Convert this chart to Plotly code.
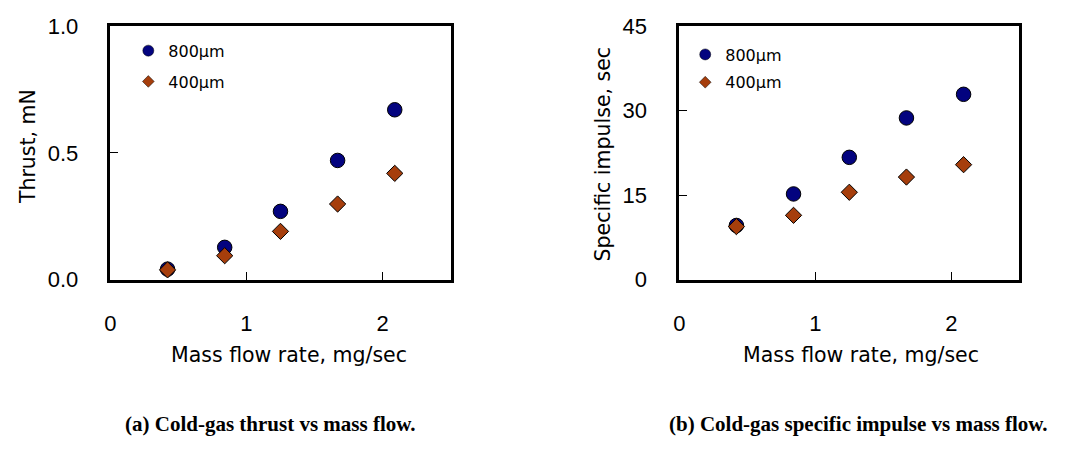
import plotly.graph_objects as go

# Data
mass_flow = [0.42, 0.84, 1.25, 1.67, 2.09]
thrust_800 = [0.041, 0.127, 0.269, 0.47, 0.67]
thrust_400 = [0.038, 0.094, 0.19, 0.298, 0.419]
isp_800 = [9.6, 15.2, 21.7, 28.7, 32.9]
isp_400 = [9.4, 11.4, 15.5, 18.2, 20.4]
series_names = ["800μm", "400μm"]
x_ticks = [0, 1, 2]
y1_ticks = [0.0, 0.5, 1.0]
y1_ticktext = ["0.0", "0.5", "1.0"]
y2_ticks = [0, 15, 30, 45]
captions = ["(a) Cold-gas thrust vs mass flow.", "(b) Cold-gas specific impulse vs mass flow."]

W, H = 1084, 457
NAVY = "#03037F"
BROWN = "#A63E0C"

def px(v):
    return v / W

def py(v):
    return 1 - v / H

fig = go.Figure()

circle = dict(symbol="circle", size=14.5, color=NAVY, line=dict(color="black", width=1))
diamond = dict(symbol="diamond", size=12.5, color=BROWN, line=dict(color="black", width=1))
circle_leg = dict(symbol="circle", size=11, color=NAVY, line=dict(color="black", width=0.5))
diamond_leg = dict(symbol="diamond", size=9, color=BROWN, line=dict(color="black", width=0.5))

# left panel
fig.add_trace(go.Scatter(x=mass_flow, y=thrust_800, mode="markers", marker=circle,
                         showlegend=False, xaxis="x", yaxis="y"))
fig.add_trace(go.Scatter(x=mass_flow, y=thrust_400, mode="markers", marker=diamond,
                         showlegend=False, xaxis="x", yaxis="y"))
# right panel
fig.add_trace(go.Scatter(x=mass_flow, y=isp_800, mode="markers", marker=circle,
                         showlegend=False, xaxis="x2", yaxis="y2"))
fig.add_trace(go.Scatter(x=mass_flow, y=isp_400, mode="markers", marker=diamond,
                         showlegend=False, xaxis="x2", yaxis="y2"))

# legend entries
for lg, xa, ya in [("legend", "x", "y"), ("legend2", "x2", "y2")]:
    fig.add_trace(go.Scatter(x=[None], y=[None], mode="markers", marker=circle_leg,
                             name=series_names[0], legend=lg, legendgroup=lg + "a",
                             xaxis=xa, yaxis=ya))
    fig.add_trace(go.Scatter(x=[None], y=[None], mode="markers", marker=diamond_leg,
                             name=series_names[1], legend=lg, legendgroup=lg + "b",
                             xaxis=xa, yaxis=ya))

tickfont = dict(family="Liberation Sans, Arial, sans-serif", size=22, color="black")
titlefont = dict(family="DejaVu Sans, sans-serif", size=20.5, color="black")
legfont = dict(family="DejaVu Sans, sans-serif", size=16, color="black")
capfont = dict(family="Liberation Serif, Times New Roman, serif", size=21, color="black")

axis_common = dict(showline=True, mirror=True, linecolor="black", linewidth=2.5,
                   ticks="inside", ticklen=8, tickwidth=1, tickcolor="black",
                   showgrid=False, zeroline=False, tickfont=tickfont)

y_top, y_bot = 15, 283
fig.update_layout(
    width=W, height=H,
    margin=dict(l=0, r=0, t=0, b=0),
    paper_bgcolor="white", plot_bgcolor="white",
    xaxis=dict(domain=[px(105), px(447)], range=[0, 2.5], tickvals=x_ticks,
               anchor="y", ticklabelstandoff=22, **axis_common),
    yaxis=dict(domain=[py(y_bot), py(y_top)], range=[0, 1.0], tickvals=y1_ticks,
               ticktext=y1_ticktext, anchor="x", ticklabelstandoff=25, **axis_common),
    xaxis2=dict(domain=[px(677), px(1019)], range=[0, 2.5], tickvals=x_ticks,
                anchor="y2", ticklabelstandoff=22, **axis_common),
    yaxis2=dict(domain=[py(y_bot), py(y_top)], range=[0, 45], tickvals=y2_ticks,
                anchor="x2", ticklabelstandoff=25, **axis_common),
    legend=dict(x=px(123), y=py(23), xanchor="left", yanchor="top",
                bgcolor="rgba(0,0,0,0)", font=legfont, tracegroupgap=7,
                itemwidth=30, traceorder="grouped"),
    legend2=dict(x=px(683), y=py(27), xanchor="left", yanchor="top",
                 bgcolor="rgba(0,0,0,0)", font=legfont, tracegroupgap=4,
                 itemwidth=30, traceorder="grouped"),
)

annotations = [
    dict(text="Thrust, mN", x=px(22), y=py(142), textangle=-90, font=titlefont),
    dict(text="Specific impulse, sec", x=px(600), y=py(150), textangle=-90, font=titlefont),
    dict(text="Mass flow rate, mg/sec", x=px(285), y=py(363), font=titlefont),
    dict(text="Mass flow rate, mg/sec", x=px(860), y=py(363), font=titlefont),
    dict(text="<b>" + captions[0] + "</b>", x=px(266), y=py(436), font=capfont),
    dict(text="<b>" + captions[1] + "</b>", x=px(857), y=py(436), font=capfont),
]
for a in annotations:
    a.update(xref="paper", yref="paper", showarrow=False, xanchor="center", yanchor="middle")
fig.update_layout(annotations=annotations)

fig.write_html("out.html", config={"displayModeBar": False},
               post_script="document.body.style.margin='0';document.body.style.padding='0';"
                           "document.body.style.overflow='hidden';"
                           "document.documentElement.style.overflow='hidden';")
